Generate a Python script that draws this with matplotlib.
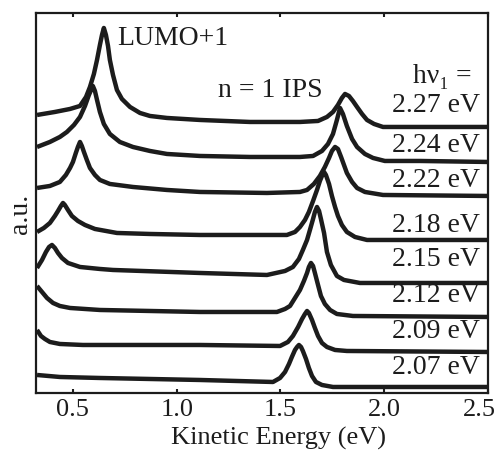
import matplotlib
matplotlib.use('Agg')
import matplotlib.pyplot as plt
import matplotlib.transforms as mtransforms
import numpy as np

# two-photon photoemission spectra, one per pump photon energy (eV)
photon_energies = ['2.27', '2.24', '2.22', '2.18', '2.15', '2.12', '2.09', '2.07']

# kinetic energy (eV) and intensity (a.u., relative to the high-energy baseline)
ke_227 = [0.327, 0.413, 0.486, 0.534, 0.563, 0.582, 0.601, 0.616, 0.630, 0.640, 0.649, 0.659, 0.669,
          0.678, 0.693, 0.712, 0.736, 0.775, 0.823, 0.871, 0.953, 1.112, 1.353, 1.594, 1.681, 1.724,
          1.753, 1.777, 1.796, 1.811, 1.830, 1.849, 1.869, 1.893, 1.917, 1.951, 1.994, 2.172, 2.5]
int_227 = [1.2, 1.5, 1.8, 2.1, 3.0, 4.0, 5.3, 6.7, 8.2, 9.2, 9.9, 9.2, 8.1,
           6.7, 5.2, 3.7, 2.8, 2.0, 1.4, 1.1, 0.9, 0.7, 0.5, 0.5, 0.6, 1.0,
           1.5, 2.2, 2.9, 3.3, 3.1, 2.6, 2.0, 1.3, 0.7, 0.3, 0.0, 0.0, 0.0]

ke_224 = [0.327, 0.389, 0.437, 0.471, 0.505, 0.534, 0.558, 0.577, 0.592, 0.596, 0.606, 0.616, 0.630,
          0.649, 0.678, 0.726, 0.789, 0.871, 0.953, 1.112, 1.353, 1.594, 1.657, 1.700, 1.729, 1.753,
          1.772, 1.787, 1.801, 1.820, 1.845, 1.869, 1.907, 1.946, 2.003, 2.172, 2.5]
int_224 = [1.5, 2.0, 2.5, 3.0, 3.7, 4.5, 5.6, 6.7, 7.4, 7.6, 7.1, 6.2, 5.0,
           3.8, 2.8, 2.0, 1.5, 1.1, 0.8, 0.6, 0.5, 0.5, 0.6, 1.1, 1.8, 2.8,
           4.2, 5.4, 4.8, 3.6, 2.3, 1.5, 0.8, 0.4, 0.1, 0.1, 0.0]

ke_222 = [0.327, 0.389, 0.437, 0.466, 0.486, 0.500, 0.514, 0.524, 0.534, 0.543, 0.553, 0.567, 0.582,
          0.606, 0.630, 0.678, 0.789, 0.953, 1.112, 1.435, 1.594, 1.628, 1.661, 1.690, 1.714, 1.734,
          1.748, 1.763, 1.777, 1.792, 1.806, 1.820, 1.845, 1.869, 1.907, 1.994, 2.5]
int_222 = [0.8, 1.0, 1.4, 2.1, 2.8, 3.4, 4.3, 4.9, 5.4, 5.0, 4.4, 3.6, 2.8,
           2.1, 1.6, 1.2, 0.9, 0.6, 0.4, 0.3, 0.4, 0.6, 1.2, 2.0, 2.9, 3.8,
           4.5, 4.9, 4.7, 3.9, 3.1, 2.3, 1.4, 0.8, 0.4, 0.1, 0.0]

ke_218 = [0.327, 0.360, 0.389, 0.413, 0.428, 0.442, 0.452, 0.461, 0.476, 0.495, 0.524, 0.558, 0.606,
          0.712, 0.871, 1.112, 1.531, 1.570, 1.594, 1.618, 1.637, 1.657, 1.676, 1.690, 1.700, 1.710,
          1.719, 1.734, 1.748, 1.763, 1.777, 1.796, 1.820, 1.859, 1.917, 2.5]
int_218 = [0.8, 1.2, 1.7, 2.4, 2.9, 3.4, 3.7, 3.5, 3.0, 2.4, 1.9, 1.5, 1.1,
           0.7, 0.6, 0.5, 0.5, 0.8, 1.3, 2.0, 2.8, 3.9, 5.0, 5.9, 6.4, 6.8,
           6.5, 5.6, 4.4, 3.3, 2.4, 1.5, 0.8, 0.3, 0.0, 0.0]

ke_215 = [0.327, 0.351, 0.370, 0.385, 0.399, 0.413, 0.428, 0.447, 0.476, 0.534, 0.630, 0.693, 1.112,
          1.435, 1.522, 1.560, 1.589, 1.608, 1.628, 1.642, 1.657, 1.666, 1.676, 1.686, 1.695, 1.710,
          1.724, 1.743, 1.772, 1.806, 1.883, 2.5]
int_215 = [1.5, 2.3, 3.1, 3.6, 3.8, 3.5, 3.0, 2.5, 2.0, 1.6, 1.4, 1.3, 1.0,
           0.8, 1.2, 1.6, 2.4, 3.3, 4.3, 5.3, 6.4, 7.1, 7.6, 7.2, 6.4, 5.0,
           3.1, 1.8, 0.7, 0.3, 0.0, 0.0]

ke_212 = [0.327, 0.351, 0.375, 0.404, 0.437, 0.486, 0.630, 1.112, 1.483, 1.522, 1.546, 1.570, 1.594,
          1.613, 1.628, 1.637, 1.647, 1.657, 1.666, 1.681, 1.695, 1.714, 1.739, 1.772, 1.849, 2.5]
int_212 = [3.1, 2.5, 1.9, 1.4, 1.1, 0.9, 0.7, 0.5, 0.5, 0.8, 1.1, 1.9, 2.7,
           3.6, 4.4, 5.0, 5.4, 5.1, 4.4, 3.2, 2.1, 1.3, 0.7, 0.3, 0.1, 0.0]

ke_209 = [0.327, 0.346, 0.365, 0.389, 0.437, 0.548, 1.112, 1.498, 1.536, 1.560, 1.585, 1.604, 1.618,
          1.628, 1.637, 1.652, 1.666, 1.681, 1.700, 1.724, 1.763, 1.820, 2.5]
int_209 = [2.2, 1.6, 1.3, 1.0, 0.8, 0.7, 0.7, 0.6, 1.0, 1.6, 2.5, 3.3, 3.8,
           4.1, 3.9, 3.2, 2.4, 1.6, 0.9, 0.5, 0.2, 0.1, 0.0]

ke_207 = [0.327, 0.437, 0.630, 1.112, 1.464, 1.498, 1.522, 1.541, 1.555, 1.570, 1.580, 1.589, 1.599,
          1.608, 1.623, 1.637, 1.652, 1.671, 1.700, 1.753, 2.5]
int_207 = [1.2, 1.0, 0.9, 0.7, 0.5, 0.9, 1.5, 2.3, 3.0, 3.7, 4.0, 4.2, 4.0,
           3.6, 2.8, 1.9, 1.1, 0.5, 0.2, 0.0, 0.0]

spectra = [(ke_227, int_227), (ke_224, int_224), (ke_222, int_222), (ke_218, int_218),
           (ke_215, int_215), (ke_212, int_212), (ke_209, int_209), (ke_207, int_207)]

# vertical stacking and label heights
offsets = [26.6, 23.1, 19.7, 15.3, 11.0, 7.6, 4.1, 0.6]
label_y = [28.7, 24.7, 21.2, 16.7, 13.3, 9.7, 6.1, 2.5]

plt.rcParams['font.family'] = ['Liberation Serif', 'DejaVu Serif']
plt.rcParams['font.size'] = 20

ink = '#1c1c1c'

fig = plt.figure(figsize=(5.02, 4.53), dpi=100)
ax = fig.add_axes([0.0717, 0.1325, 0.9004, 0.8389])

for (ke, inten), off in zip(spectra, offsets):
    ax.plot(ke, np.array(inten) + off, color=ink, lw=3.2,
            solid_joinstyle='round', solid_capstyle='butt')

for lab, y in zip(photon_energies, label_y):
    ax.text(2.46, y, f'{lab} eV', ha='right', va='center', color=ink)

ax.text(2.423, 31.6, 'hν₁ =', ha='right', va='center', color=ink)
ax.text(0.712, 35.4, 'LUMO+1', ha='left', va='center', color=ink)
ax.text(1.200, 30.2, 'n = 1 IPS', ha='left', va='center', color=ink)

ax.set_xlim(0.322, 2.5)
ax.set_ylim(0, 38)
ax.set_xticks([0.5, 1.0, 1.5, 2.0, 2.5])
ax.set_xticklabels(['0.5', '1.0', '1.5', '2.0', '2.5'])
ax.set_yticks([])
ax.tick_params(axis='x', direction='in', top=True, length=3, width=1.5,
               pad=4, colors=ink, labelsize=19)
for sp in ax.spines.values():
    sp.set_linewidth(1.6)
    sp.set_color(ink)

# keep the last tick label inside the figure
last = ax.get_xticklabels()[-1]
last.set_transform(last.get_transform() +
                   mtransforms.ScaledTranslation(-6 / 72, 0, fig.dpi_scale_trans))

ax.set_xlabel('Kinetic Energy (eV)', color=ink, fontsize=19)
ax.xaxis.set_label_coords(0.537, -0.119)
ax.xaxis.label.set_va('center')
ax.set_ylabel('a.u.', color=ink, va='center')
ax.yaxis.set_label_coords(-0.035, 0.47)

fig.savefig('out.png', dpi=100)
